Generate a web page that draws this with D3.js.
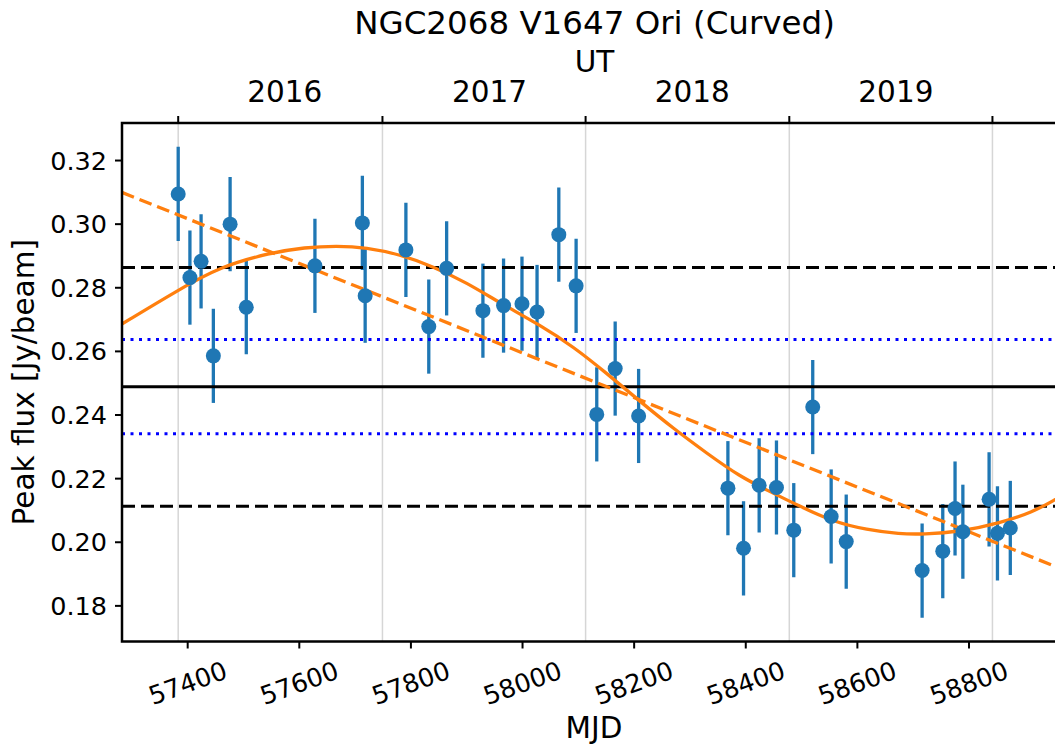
<!DOCTYPE html>
<html>
<head>
<meta charset="utf-8">
<script src="https://cdn.jsdelivr.net/npm/d3@7"></script>
<style>
  body { margin: 0; background: #fff; }
  svg { font-family: "DejaVu Sans", sans-serif; }
</style>
</head>
<body>
<div id="chart"></div>
<script>
// observations (MJD, peak flux in Jy/beam)
const mjd = [57383, 57404, 57424, 57446, 57476, 57505, 57628, 57713, 57718, 57791,
             57832, 57864, 57929, 57966, 57999, 58026, 58065, 58096, 58133, 58166,
             58208, 58368, 58396, 58424, 58455, 58486, 58520, 58553, 58580, 58716,
             58753, 58775, 58789, 58836, 58851, 58874];
const flux = [0.3095, 0.2832, 0.2883, 0.2586, 0.3000, 0.2739, 0.2869, 0.3004, 0.2775, 0.2919,
              0.2678, 0.2861, 0.2728, 0.2744, 0.2750, 0.2724, 0.2967, 0.2806, 0.2402, 0.2546,
              0.2397, 0.2170, 0.1981, 0.2179, 0.2172, 0.2038, 0.2425, 0.2081, 0.2002, 0.1911,
              0.1972, 0.2106, 0.2033, 0.2135, 0.2028, 0.2045];
const fluxErr = mjd.map(() => 0.0148);

// reference levels
const meanFlux = 0.2489;
const stdLevels = [0.2864, 0.2113];
const rmsLevels = [0.2637, 0.2341];

// linear fit (endpoints) and curved fit
const linFit = [[57282, 0.3100], [58976, 0.1909]];
const curveMjd = [57282, 57383, 57458, 57548, 57610, 57667, 57720, 57780, 57840, 57900,
                  57960, 58031, 58091, 58151, 58211, 58270, 58330, 58390, 58438, 58498,
                  58556, 58617, 58676, 58718, 58784, 58856, 58915, 58954, 58976];
const curveFlux = [0.2686, 0.2793, 0.2866, 0.2910, 0.2927, 0.2932, 0.2927, 0.2905, 0.2867, 0.2816,
                   0.2752, 0.2683, 0.2615, 0.2531, 0.2442, 0.2358, 0.2280, 0.2206, 0.2164, 0.2112,
                   0.2065, 0.2039, 0.2026, 0.2025, 0.2033, 0.2060, 0.2096, 0.2133, 0.2158];

const xTicks = [57400, 57600, 57800, 58000, 58200, 58400, 58600, 58800];
const yTicks = [0.18, 0.20, 0.22, 0.24, 0.26, 0.28, 0.30, 0.32];
const yearBounds = [57383, 57749, 58113, 58478, 58842];
const yearLabels = ["2016", "2017", "2018", "2019"];
const yearCenters = [57574, 57941, 58304, 58669];

const width = 1055, height = 746;
const mLeft = 122, mRight = 1067, mTop = 123, mBottom = 641.5;

const svg = d3.select("#chart").append("svg")
    .attr("width", width)
    .attr("height", height);

const x = d3.scaleLinear().domain([57282.3, 58975.6]).range([mLeft, mRight]);
const y = d3.scaleLinear().domain([0.1688, 0.3318]).range([mBottom, mTop]);

svg.append("clipPath").attr("id", "clip")
  .append("rect")
    .attr("x", mLeft).attr("y", mTop)
    .attr("width", mRight - mLeft).attr("height", mBottom - mTop);

const plot = svg.append("g").attr("clip-path", "url(#clip)");

// year boundaries
plot.selectAll(".yr")
  .data(yearBounds)
  .join("line")
    .attr("x1", d => x(d)).attr("x2", d => x(d))
    .attr("y1", mTop).attr("y2", mBottom)
    .attr("stroke", "#d6d6d6")
    .attr("stroke-width", 1.5);

// error bars
plot.selectAll(".err")
  .data(mjd)
  .join("line")
    .attr("x1", d => x(d)).attr("x2", d => x(d))
    .attr("y1", (d, i) => y(flux[i] - fluxErr[i]))
    .attr("y2", (d, i) => y(flux[i] + fluxErr[i]))
    .attr("stroke", "#1f77b4")
    .attr("stroke-width", 3.3);

// horizontal reference lines
function hline(v, color, dash) {
    plot.append("line")
        .attr("x1", mLeft).attr("x2", mRight)
        .attr("y1", y(v)).attr("y2", y(v))
        .attr("stroke", color)
        .attr("stroke-width", 3)
        .attr("stroke-dasharray", dash);
}
hline(meanFlux, "#000", null);
stdLevels.forEach(v => hline(v, "#000", "13,6"));
rmsLevels.forEach(v => hline(v, "#0000ff", "3,5.5"));

// fits
const line = d3.line().x(d => x(d[0])).y(d => y(d[1]));
plot.append("path")
    .datum(linFit)
    .attr("d", line)
    .attr("fill", "none")
    .attr("stroke", "#ff7f0e")
    .attr("stroke-width", 3.3)
    .attr("stroke-dasharray", "13,6");

plot.append("path")
    .datum(curveMjd.map((m, i) => [m, curveFlux[i]]))
    .attr("d", line.curve(d3.curveBasis))
    .attr("fill", "none")
    .attr("stroke", "#ff7f0e")
    .attr("stroke-width", 3.3);

// markers
plot.selectAll(".pt")
  .data(mjd)
  .join("circle")
    .attr("cx", d => x(d))
    .attr("cy", (d, i) => y(flux[i]))
    .attr("r", 7.5)
    .attr("fill", "#1f77b4");

// spines
svg.append("rect")
    .attr("x", mLeft).attr("y", mTop)
    .attr("width", mRight - mLeft).attr("height", mBottom - mTop)
    .attr("fill", "none")
    .attr("stroke", "#000")
    .attr("stroke-width", 2.5);

// bottom axis
const gx = svg.append("g");
gx.selectAll("line")
  .data(xTicks)
  .join("line")
    .attr("x1", d => x(d)).attr("x2", d => x(d))
    .attr("y1", mBottom).attr("y2", mBottom + 7)
    .attr("stroke", "#000").attr("stroke-width", 2);
gx.selectAll("text")
  .data(xTicks)
  .join("text")
    .attr("transform", d => `translate(${x(d)},683) rotate(-20)`)
    .attr("text-anchor", "middle")
    .attr("dominant-baseline", "central")
    .attr("font-size", 25.5)
    .text(d => d);

// left axis
const gy = svg.append("g");
gy.selectAll("line")
  .data(yTicks)
  .join("line")
    .attr("x1", mLeft - 7).attr("x2", mLeft)
    .attr("y1", d => y(d)).attr("y2", d => y(d))
    .attr("stroke", "#000").attr("stroke-width", 2);
gy.selectAll("text")
  .data(yTicks)
  .join("text")
    .attr("x", 107)
    .attr("y", d => y(d))
    .attr("text-anchor", "end")
    .attr("dominant-baseline", "central")
    .attr("font-size", 25.5)
    .text(d => d.toFixed(2));

// top axis (years)
const gt = svg.append("g");
gt.selectAll("line")
  .data(yearBounds)
  .join("line")
    .attr("x1", d => x(d)).attr("x2", d => x(d))
    .attr("y1", mTop - 7).attr("y2", mTop)
    .attr("stroke", "#000").attr("stroke-width", 2);
gt.selectAll("text")
  .data(yearCenters)
  .join("text")
    .attr("x", d => x(d))
    .attr("y", 101.5)
    .attr("text-anchor", "middle")
    .attr("font-size", 29.5)
    .text((d, i) => yearLabels[i]);

// labels
svg.append("text")
    .attr("x", (mLeft + mRight) / 2).attr("y", 34)
    .attr("text-anchor", "middle")
    .attr("font-size", 32.5)
    .text("NGC2068 V1647 Ori (Curved)");
svg.append("text")
    .attr("x", (mLeft + mRight) / 2).attr("y", 71.5)
    .attr("text-anchor", "middle")
    .attr("font-size", 29.5)
    .text("UT");
svg.append("text")
    .attr("x", 594).attr("y", 738)
    .attr("text-anchor", "middle")
    .attr("font-size", 29.5)
    .text("MJD");
svg.append("text")
    .attr("transform", `translate(34,${(mTop + mBottom) / 2}) rotate(-90)`)
    .attr("text-anchor", "middle")
    .attr("font-size", 29.5)
    .text("Peak flux [Jy/beam]");
</script>
</body>
</html>
